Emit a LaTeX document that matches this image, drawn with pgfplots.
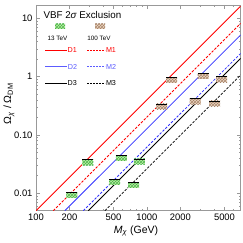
\documentclass[border=0pt]{standalone}
\usepackage{fontspec}
\setmainfont{Liberation Sans}
\usepackage{pgfplots}
\pgfplotsset{compat=1.18}
\usetikzlibrary{patterns}
\definecolor{myred}{rgb}{1,0,0}
\definecolor{myblue}{rgb}{0.2,0.2,1}
\definecolor{gfill}{rgb}{0.75,0.92,0.66}
\definecolor{ghatch}{rgb}{0.3,0.72,0.3}
\definecolor{bfill}{rgb}{0.92,0.84,0.76}
\definecolor{bhatch}{rgb}{0.66,0.52,0.42}
\definecolor{framegray}{rgb}{0.6,0.6,0.6}

\pgfdeclareplotmark{gbox}{%
  \pgfpathrectangle{\pgfpoint{-5.5pt}{-5.5pt}}{\pgfpoint{11pt}{5.5pt}}%
  \pgfsetfillcolor{gfill}\pgfusepath{fill}%
  \pgfpathrectangle{\pgfpoint{-5.5pt}{-5.5pt}}{\pgfpoint{11pt}{5.5pt}}%
  \pgfsetfillpattern{crosshatch}{ghatch}\pgfusepath{fill}%
  \pgfpathmoveto{\pgfpoint{-5.5pt}{0pt}}\pgfpathlineto{\pgfpoint{5.5pt}{0pt}}%
  \pgfsetstrokecolor{black}\pgfsetlinewidth{0.8pt}\pgfsetdash{}{0pt}\pgfusepath{stroke}%
}
\pgfdeclareplotmark{bbox}{%
  \pgfpathrectangle{\pgfpoint{-5.5pt}{-5.5pt}}{\pgfpoint{11pt}{5.5pt}}%
  \pgfsetfillcolor{bfill}\pgfusepath{fill}%
  \pgfpathrectangle{\pgfpoint{-5.5pt}{-5.5pt}}{\pgfpoint{11pt}{5.5pt}}%
  \pgfsetfillpattern{crosshatch}{bhatch}\pgfusepath{fill}%
  \pgfpathmoveto{\pgfpoint{-5.5pt}{0pt}}\pgfpathlineto{\pgfpoint{5.5pt}{0pt}}%
  \pgfsetstrokecolor{black}\pgfsetlinewidth{0.8pt}\pgfsetdash{}{0pt}\pgfusepath{stroke}%
}

\begin{document}
\begin{tikzpicture}
\useasboundingbox (-36pt,-32.3pt) rectangle (207pt,210.7pt);
\begin{axis}[
  scale only axis, width=204.7pt, height=205.7pt,
  xmode=log, ymode=log,
  xmin=100, xmax=7000, ymin=0.005, ymax=17,
  xtick={100,200,500,1000,2000,5000},
  xticklabels={100,200,500,1000,2000,5000},
  minor xtick={300,400,600,700,800,900,3000,4000,6000},
  ytick={0.01,0.1,1,10}, yticklabels={0.01,0.10,1,10},
  minor ytick={0.006,0.007,0.008,0.009,0.02,0.03,0.04,0.05,0.06,0.07,0.08,0.09,0.2,0.3,0.4,0.5,0.6,0.7,0.8,0.9,2,3,4,5,6,7,8,9},
  tick align=inside, major tick length=4pt, minor tick length=2pt,
  axis line style={framegray, line width=0.5pt},
  every tick/.style={framegray, line width=0.4pt},
  /pgf/number format/assume math mode=true,
  every tick label/.append style={font=\fontsize{9.4}{11}\selectfont, black},
  xlabel={\textit{M}\textsubscript{\textit{χ}} (GeV)},
  ylabel={Ω\textsubscript{\textit{χ}} / Ω\textsubscript{DM}},
  xlabel style={at={(axis description cs:0.489,-0.099)}, anchor=center, font=\fontsize{10.5}{12}\selectfont},
  ylabel style={at={(axis description cs:-0.132,0.52)}, anchor=center, font=\fontsize{10.5}{12}\selectfont},
]
% D1, M1
\addplot[myred, line width=0.8pt] coordinates {(100,0.005) (7000,16.3)};
\addplot[myred, line width=0.8pt, dash pattern=on 2.5pt off 1.5pt] coordinates {(143,0.005) (7000,8.24)};
% D2, M2
\addplot[myblue, line width=0.8pt] coordinates {(182,0.005) (7000,5.21)};
\addplot[myblue, line width=0.8pt, dash pattern=on 2.5pt off 1.5pt] coordinates {(267,0.005) (7000,2.51)};
% D3, M3
\addplot[black, line width=0.8pt] coordinates {(296,0.005) (7000,2.07)};
\addplot[black, line width=0.8pt, dash pattern=on 2.5pt off 1.5pt] coordinates {(418,0.005) (7000,1.07)};
% 13 TeV exclusions
\addplot[only marks, mark=gbox] coordinates {
  (211,0.0104) (294,0.0377) (512,0.0174) (587,0.0449) (760,0.0155) (855,0.0387)};
% 100 TeV exclusions
\addplot[only marks, mark=bbox] coordinates {
  (1357,0.34) (1669,0.98) (2723,0.42) (3215,1.14) (4074,0.383) (4710,1.0)};
\end{axis}
% legend
\node[anchor=west, inner sep=0pt, font=\fontsize{9.8}{11}\selectfont] at (7.3pt,195.7pt) {VBF 2{\itshape σ} Exclusion};
\fill[gfill] (19pt,182pt) rectangle (29pt,187pt);
\fill[pattern=crosshatch, pattern color=ghatch] (19pt,182pt) rectangle (29pt,187pt);
\fill[bfill] (59pt,182pt) rectangle (69pt,187pt);
\fill[pattern=crosshatch, pattern color=bhatch] (59pt,182pt) rectangle (69pt,187pt);
\node[font=\fontsize{6.3}{7}\selectfont, inner sep=0pt] at (21.5pt,172.7pt) {13 TeV};
\node[font=\fontsize{6.3}{7}\selectfont, inner sep=0pt] at (63pt,172.7pt) {100 TeV};
\begin{scope}[every node/.style={anchor=west, inner sep=0.6pt, font=\fontsize{7.2}{8}\selectfont}]
\draw[myred, line width=0.8pt] (9pt,160.2pt) -- (30.7pt,160.2pt) node[text=myred] {D1};
\draw[myred, line width=0.8pt, dash pattern=on 2pt off 1pt] (51pt,160.2pt) -- (69pt,160.2pt) node[text=myred] {M1};
\draw[myblue!80, line width=1pt] (9pt,143.7pt) -- (30.7pt,143.7pt) node[text=myblue!80] {D2};
\draw[myblue!80, line width=1pt, dash pattern=on 2pt off 1pt] (51pt,143.7pt) -- (69pt,143.7pt) node[text=myblue!80] {M2};
\draw[black, line width=0.8pt] (9pt,127.5pt) -- (30.7pt,127.5pt) node[text=black] {D3};
\draw[black, line width=0.8pt, dash pattern=on 2pt off 1pt] (51pt,127.5pt) -- (69pt,127.5pt) node[text=black] {M3};
\end{scope}
\end{tikzpicture}
\end{document}
